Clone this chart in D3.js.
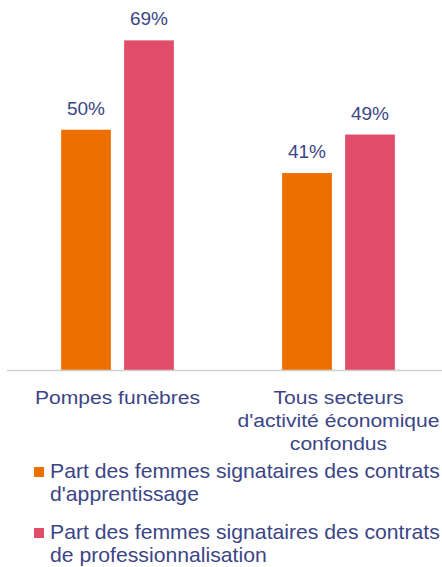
<!DOCTYPE html>
<html>
<head>
<meta charset="utf-8">
<script src="https://cdn.jsdelivr.net/npm/d3@7"></script>
<style>
  html, body { margin: 0; padding: 0; background: #fff; }
  svg { display: block; font-family: "Liberation Sans", Arial, sans-serif; }
</style>
</head>
<body>
<div id="chart"></div>
<script>
// categories on the x axis, one label line per array entry
const categories = ["Pompes funèbres", "Tous secteurs d'activité économique confondus"];
const categoryLines = [["Pompes funèbres"], ["Tous secteurs", "d'activité économique", "confondus"]];

// series (percent of women signing contracts)
const seriesNames = ["apprentissage", "professionnalisation"];
const apprentissage = [50, 41];
const professionnalisation = [68.6, 49];

const legendLines = [
  ["Part des femmes signataires des contrats", "d'apprentissage"],
  ["Part des femmes signataires des contrats", "de professionnalisation"]
];

const colors = ["#EC6F00", "#E04D68"];
const textColor = "#3B4586";

// ------------------------------
const width = 442, height = 567;
const baseY = 370;

const svg = d3.select("#chart").append("svg")
  .attr("width", width)
  .attr("height", height);

const x0 = d3.scaleBand()
  .domain(categories)
  .range([7, 449])
  .paddingInner(0.49)
  .paddingOuter(0.245);

const x1 = d3.scaleBand()
  .domain(seriesNames)
  .range([0, x0.bandwidth()])
  .paddingInner(0.21);

const y = d3.scaleLinear().domain([0, 77]).range([baseY, 0]);

const rows = categories.map((c, i) => ({
  cat: c,
  values: [
    { key: "apprentissage", v: apprentissage[i] },
    { key: "professionnalisation", v: professionnalisation[i] }
  ]
}));

const groups = svg.append("g").selectAll("g")
  .data(rows)
  .join("g")
  .attr("transform", d => `translate(${x0(d.cat)},0)`);

groups.selectAll("rect")
  .data(d => d.values)
  .join("rect")
  .attr("x", d => x1(d.key))
  .attr("y", d => y(d.v))
  .attr("width", x1.bandwidth())
  .attr("height", d => y(0) - y(d.v))
  .attr("fill", (d, i) => colors[i]);

groups.selectAll("text.val")
  .data(d => d.values)
  .join("text")
  .attr("class", "val")
  .attr("x", d => x1(d.key) + x1.bandwidth() / 2)
  .attr("y", d => y(d.v) - 15)
  .attr("text-anchor", "middle")
  .attr("fill", textColor)
  .attr("font-size", "19px")
  .text(d => Math.round(d.v) + "%");

// axis line
svg.append("line")
  .attr("x1", 7).attr("x2", width)
  .attr("y1", baseY + 0.5).attr("y2", baseY + 0.5)
  .attr("stroke", "#D0D0D0")
  .attr("stroke-width", 1.5);

// category labels (source text is a bit wider than Liberation, so stretch)
categories.forEach((c, i) => {
  const t = svg.append("text")
    .attr("text-anchor", "middle")
    .attr("fill", textColor)
    .attr("font-size", "19px")
    .attr("transform", `translate(${x0(c) + x0.bandwidth() / 2},404) scale(1.11,1)`);
  categoryLines[i].forEach((line, j) => {
    t.append("tspan").attr("x", 0).attr("y", j * 23).text(line);
  });
});

// legend
const legend = svg.append("g");
legendLines.forEach((lines, i) => {
  const g = legend.append("g").attr("transform", `translate(34,${477.5 + i * 61})`);
  g.append("rect")
    .attr("x", 0).attr("y", -10.5)
    .attr("width", 10).attr("height", 10)
    .attr("fill", colors[i]);
  const t = g.append("text")
    .attr("fill", textColor)
    .attr("font-size", "20px")
    .attr("transform", "translate(16,0) scale(1.06,1)");
  lines.forEach((line, j) => {
    t.append("tspan").attr("x", 0).attr("y", j * 24).text(line);
  });
});
</script>
</body>
</html>
